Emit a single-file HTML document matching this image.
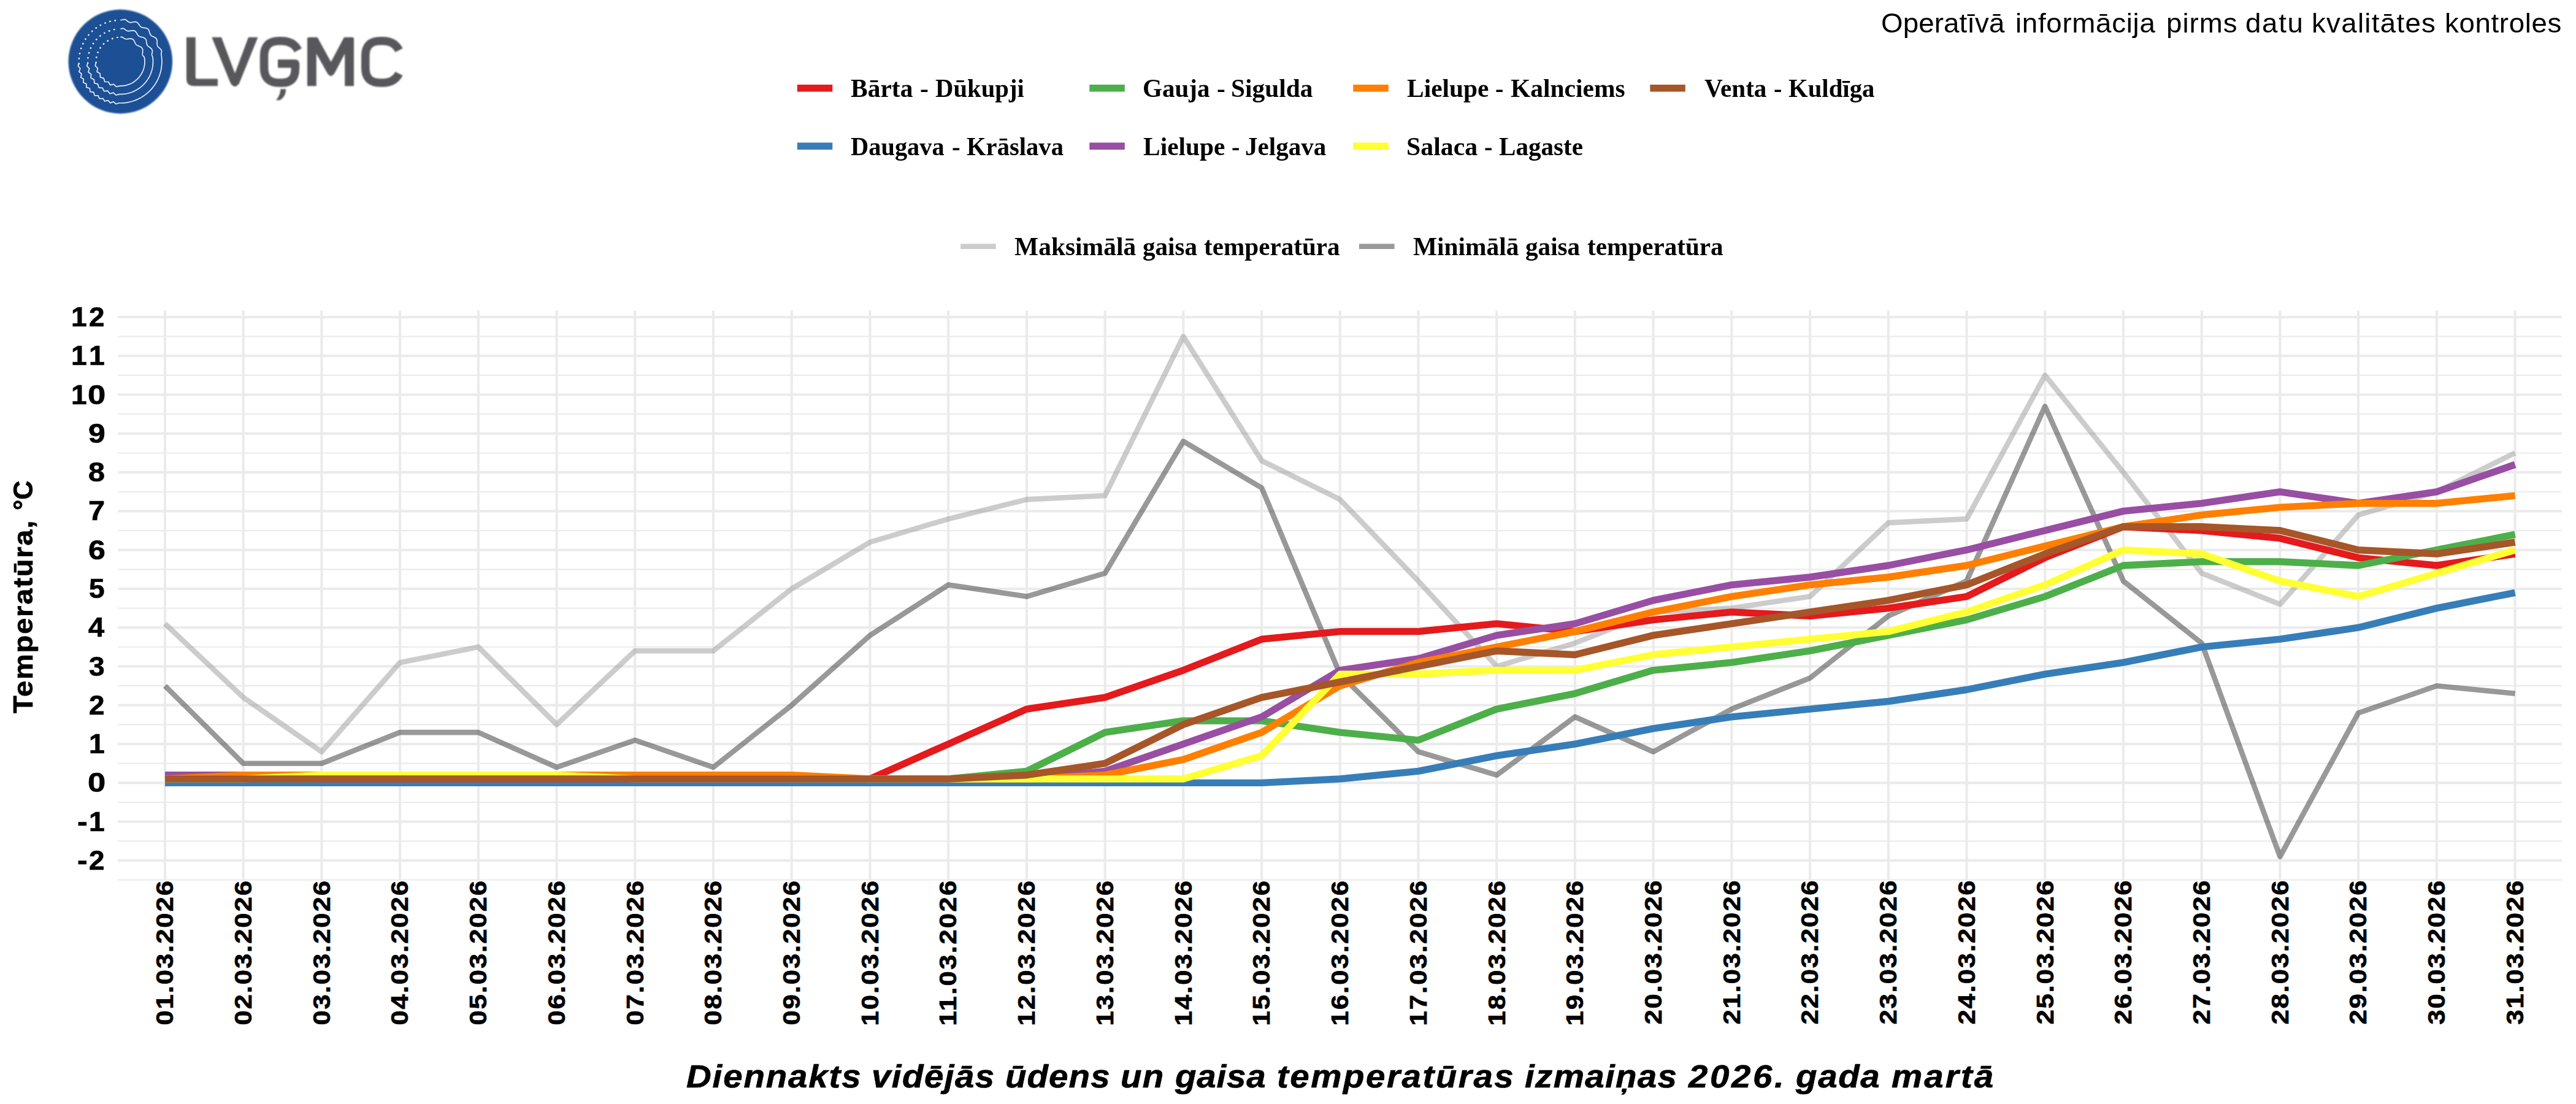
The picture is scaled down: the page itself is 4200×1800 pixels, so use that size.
<!DOCTYPE html>
<html lang="lv"><head><meta charset="utf-8"><title>LVĢMC — ūdens un gaisa temperatūra, 2026. gada marts</title>
<style>
html,body{margin:0;padding:0;background:#fff}
body{width:4200px;height:1800px;position:relative;overflow:hidden;font-family:"Liberation Sans",sans-serif;color:#000}
svg{position:absolute;left:0;top:0;display:block}
.t{position:absolute;white-space:nowrap;line-height:1;font-family:"Liberation Sans",sans-serif}
.l{width:0;height:0}.w{position:absolute;display:block;transform-origin:0 0;white-space:nowrap;line-height:1}
.b{font-weight:bold;-webkit-text-stroke:0.7px #000}.s{-webkit-text-stroke:0}.i{font-style:italic}.s{font-family:"Liberation Serif",serif}

</style></head><body>
<svg width="4200" height="1800" viewBox="0 0 4200 1800">
<path d="M192.2 1434.56H4176.9M192.2 1371.28H4176.9M192.2 1308.00H4176.9M192.2 1244.72H4176.9M192.2 1181.44H4176.9M192.2 1118.16H4176.9M192.2 1054.88H4176.9M192.2 991.60H4176.9M192.2 928.32H4176.9M192.2 865.04H4176.9M192.2 801.76H4176.9M192.2 738.48H4176.9M192.2 675.20H4176.9M192.2 611.92H4176.9M192.2 548.64H4176.9" stroke="#ebebeb" stroke-width="2.2" fill="none"/>
<path d="M192.2 1402.92H4176.9M192.2 1339.64H4176.9M192.2 1276.36H4176.9M192.2 1213.08H4176.9M192.2 1149.80H4176.9M192.2 1086.52H4176.9M192.2 1023.24H4176.9M192.2 959.96H4176.9M192.2 896.68H4176.9M192.2 833.40H4176.9M192.2 770.12H4176.9M192.2 706.84H4176.9M192.2 643.56H4176.9M192.2 580.28H4176.9M192.2 517.00H4176.9M268.97 506.2V1436.0M396.69 506.2V1436.0M524.41 506.2V1436.0M652.13 506.2V1436.0M779.85 506.2V1436.0M907.57 506.2V1436.0M1035.29 506.2V1436.0M1163.01 506.2V1436.0M1290.73 506.2V1436.0M1418.45 506.2V1436.0M1546.17 506.2V1436.0M1673.89 506.2V1436.0M1801.61 506.2V1436.0M1929.33 506.2V1436.0M2057.05 506.2V1436.0M2184.77 506.2V1436.0M2312.49 506.2V1436.0M2440.21 506.2V1436.0M2567.93 506.2V1436.0M2695.65 506.2V1436.0M2823.37 506.2V1436.0M2951.09 506.2V1436.0M3078.81 506.2V1436.0M3206.53 506.2V1436.0M3334.25 506.2V1436.0M3461.97 506.2V1436.0M3589.69 506.2V1436.0M3717.41 506.2V1436.0M3845.13 506.2V1436.0M3972.85 506.2V1436.0M4100.57 506.2V1436.0" stroke="#ebebeb" stroke-width="4.1" fill="none"/>
<polyline points="269.0,1016.9 396.7,1137.1 524.4,1225.7 652.1,1080.2 779.9,1054.9 907.6,1181.4 1035.3,1061.2 1163.0,1061.2 1290.7,960.0 1418.5,884.0 1546.2,846.1 1673.9,814.4 1801.6,808.1 1929.3,548.6 2057.1,751.1 2184.8,814.4 2312.5,947.3 2440.2,1086.5 2567.9,1048.6 2695.6,997.9 2823.4,991.6 2951.1,972.6 3078.8,852.4 3206.5,846.1 3334.2,611.9 3462.0,770.1 3589.7,934.6 3717.4,985.3 3845.1,839.7 3972.9,801.8 4100.6,738.5" fill="none" stroke="#999999" stroke-opacity="0.5" stroke-width="8.6" stroke-linejoin="round"/>
<polyline points="269.0,1118.2 396.7,1244.7 524.4,1244.7 652.1,1194.1 779.9,1194.1 907.6,1251.0 1035.3,1206.8 1163.0,1251.0 1290.7,1149.8 1418.5,1035.9 1546.2,953.6 1673.9,972.6 1801.6,934.6 1929.3,719.5 2057.1,795.4 2184.8,1099.2 2312.5,1225.7 2440.2,1263.7 2567.9,1168.8 2695.6,1225.7 2823.4,1156.1 2951.1,1105.5 3078.8,1004.3 3206.5,947.3 3334.2,662.5 3462.0,947.3 3589.7,1048.6 3717.4,1396.6 3845.1,1162.5 3972.9,1118.2 4100.6,1130.8" fill="none" stroke="#333333" stroke-opacity="0.5" stroke-width="8.6" stroke-linejoin="round"/>
<polyline points="269.0,1270.0 396.7,1270.0 524.4,1270.0 652.1,1270.0 779.9,1270.0 907.6,1270.0 1035.3,1270.0 1163.0,1270.0 1290.7,1270.0 1418.5,1270.0 1546.2,1213.1 1673.9,1156.1 1801.6,1137.1 1929.3,1092.8 2057.1,1042.2 2184.8,1029.6 2312.5,1029.6 2440.2,1016.9 2567.9,1029.6 2695.6,1010.6 2823.4,997.9 2951.1,1004.3 3078.8,991.6 3206.5,972.6 3334.2,909.3 3462.0,858.7 3589.7,865.0 3717.4,877.7 3845.1,909.3 3972.9,922.0 4100.6,903.0" fill="none" stroke="#e41a1c" stroke-width="11.4" stroke-linejoin="round"/>
<polyline points="269.0,1276.4 396.7,1276.4 524.4,1276.4 652.1,1276.4 779.9,1276.4 907.6,1276.4 1035.3,1276.4 1163.0,1276.4 1290.7,1276.4 1418.5,1276.4 1546.2,1276.4 1673.9,1276.4 1801.6,1276.4 1929.3,1276.4 2057.1,1276.4 2184.8,1270.0 2312.5,1257.4 2440.2,1232.1 2567.9,1213.1 2695.6,1187.8 2823.4,1168.8 2951.1,1156.1 3078.8,1143.5 3206.5,1124.5 3334.2,1099.2 3462.0,1080.2 3589.7,1054.9 3717.4,1042.2 3845.1,1023.2 3972.9,991.6 4100.6,966.3" fill="none" stroke="#377eb8" stroke-width="11.4" stroke-linejoin="round"/>
<polyline points="269.0,1270.0 396.7,1270.0 524.4,1270.0 652.1,1270.0 779.9,1270.0 907.6,1270.0 1035.3,1270.0 1163.0,1270.0 1290.7,1270.0 1418.5,1270.0 1546.2,1270.0 1673.9,1257.4 1801.6,1194.1 1929.3,1175.1 2057.1,1175.1 2184.8,1194.1 2312.5,1206.8 2440.2,1156.1 2567.9,1130.8 2695.6,1092.8 2823.4,1080.2 2951.1,1061.2 3078.8,1035.9 3206.5,1010.6 3334.2,972.6 3462.0,922.0 3589.7,915.7 3717.4,915.7 3845.1,922.0 3972.9,896.7 4100.6,871.4" fill="none" stroke="#4daf4a" stroke-width="11.4" stroke-linejoin="round"/>
<polyline points="269.0,1263.7 396.7,1263.7 524.4,1270.0 652.1,1270.0 779.9,1270.0 907.6,1270.0 1035.3,1270.0 1163.0,1270.0 1290.7,1270.0 1418.5,1270.0 1546.2,1270.0 1673.9,1270.0 1801.6,1257.4 1929.3,1213.1 2057.1,1168.8 2184.8,1092.8 2312.5,1073.9 2440.2,1035.9 2567.9,1016.9 2695.6,978.9 2823.4,953.6 2951.1,941.0 3078.8,922.0 3206.5,896.7 3334.2,865.0 3462.0,833.4 3589.7,820.7 3717.4,801.8 3845.1,820.7 3972.9,801.8 4100.6,757.5" fill="none" stroke="#984ea3" stroke-width="11.4" stroke-linejoin="round"/>
<polyline points="269.0,1270.0 396.7,1263.7 524.4,1263.7 652.1,1263.7 779.9,1263.7 907.6,1263.7 1035.3,1263.7 1163.0,1263.7 1290.7,1263.7 1418.5,1270.0 1546.2,1270.0 1673.9,1270.0 1801.6,1263.7 1929.3,1238.4 2057.1,1194.1 2184.8,1118.2 2312.5,1080.2 2440.2,1054.9 2567.9,1029.6 2695.6,997.9 2823.4,972.6 2951.1,953.6 3078.8,941.0 3206.5,922.0 3334.2,890.4 3462.0,858.7 3589.7,839.7 3717.4,827.1 3845.1,820.7 3972.9,820.7 4100.6,808.1" fill="none" stroke="#ff7f00" stroke-width="11.4" stroke-linejoin="round"/>
<polyline points="269.0,1270.0 396.7,1270.0 524.4,1263.7 652.1,1263.7 779.9,1263.7 907.6,1263.7 1035.3,1270.0 1163.0,1270.0 1290.7,1270.0 1418.5,1270.0 1546.2,1270.0 1673.9,1270.0 1801.6,1270.0 1929.3,1270.0 2057.1,1232.1 2184.8,1099.2 2312.5,1099.2 2440.2,1092.8 2567.9,1092.8 2695.6,1067.5 2823.4,1054.9 2951.1,1042.2 3078.8,1029.6 3206.5,997.9 3334.2,953.6 3462.0,896.7 3589.7,903.0 3717.4,947.3 3845.1,972.6 3972.9,934.6 4100.6,896.7" fill="none" stroke="#ffff33" stroke-width="11.4" stroke-linejoin="round"/>
<polyline points="269.0,1270.0 396.7,1270.0 524.4,1270.0 652.1,1270.0 779.9,1270.0 907.6,1270.0 1035.3,1270.0 1163.0,1270.0 1290.7,1270.0 1418.5,1270.0 1546.2,1270.0 1673.9,1263.7 1801.6,1244.7 1929.3,1181.4 2057.1,1137.1 2184.8,1111.8 2312.5,1086.5 2440.2,1061.2 2567.9,1067.5 2695.6,1035.9 2823.4,1016.9 2951.1,997.9 3078.8,978.9 3206.5,953.6 3334.2,903.0 3462.0,858.7 3589.7,858.7 3717.4,865.0 3845.1,896.7 3972.9,903.0 4100.6,884.0" fill="none" stroke="#a65628" stroke-width="11.4" stroke-linejoin="round"/>
<path d="M1299.8 143.7h57.5" stroke="#e41a1c" stroke-width="11.4" fill="none"/>
<path d="M1776.3 143.7h57.5" stroke="#4daf4a" stroke-width="11.4" fill="none"/>
<path d="M2206.3 143.7h57.5" stroke="#ff7f00" stroke-width="11.4" fill="none"/>
<path d="M2690.3 143.7h57.5" stroke="#a65628" stroke-width="11.4" fill="none"/>
<path d="M1299.8 238.3h57.5" stroke="#377eb8" stroke-width="11.4" fill="none"/>
<path d="M1776.3 238.3h57.5" stroke="#984ea3" stroke-width="11.4" fill="none"/>
<path d="M2206.3 238.3h57.5" stroke="#ffff33" stroke-width="11.4" fill="none"/>
<path d="M1566.1 401.7h57.6" stroke="#999999" stroke-opacity="0.5" stroke-width="8.6" fill="none"/>
<path d="M2216.0 401.7h57.6" stroke="#333333" stroke-opacity="0.5" stroke-width="8.6" fill="none"/>
<defs><filter id="lb" x="-5%" y="-5%" width="110%" height="110%"><feGaussianBlur stdDeviation="1.1"/></filter></defs><g filter="url(#lb)">
<circle cx="196.3" cy="100.4" r="84.8" fill="#1c5094"/>
<g fill="#58595b"><path d="M304 60.7H318.8V126Q318.8 128.5 321.3 128.5H355V140.3H316Q304 140.3 304 128.3Z"/><path d="M345.3 60.7H361L383 119.5L405 60.7H420.5L390 136Q383 146 376 136Z"/><path d="M501 140.3V63.5Q501 60.7 503.8 60.7H517.5L539.6 101L561 60.7H574.2Q577 60.7 577 63.5V140.3H562.2V87.5L546 118.5Q539.6 129 533.2 118.5L515.8 87.5V140.3Z"/><path d="M457.3 145.2H466.2Q466.4 157 456.5 163.3H449.8Q456.8 156.5 457.3 145.2Z"/></g>
<g fill="none" stroke="#58595b" stroke-width="13.6" stroke-linejoin="round"><path d="M486 82Q478 66.8 459 66.8H455Q430.6 66.8 430.6 91V111Q430.6 135 455 135H460Q481.4 135 481.4 112V103.8H453"/><path d="M650.5 82Q643 66.8 624 66.8H620Q595.8 66.8 595.8 91V111Q595.8 135 620 135H624Q643 135 650.5 120"/></g>
</g>
<g fill="none" stroke="#e6edf7" stroke-width="1.7"><path d="M128.86 105.12A67.6 67.6 0 0 1 191.58 32.96" stroke-dasharray="2.6 5.8" stroke-width="2.4" stroke-linecap="butt"/><path d="M196.30 32.80L197.11 32.76L197.92 32.64L198.73 32.47L199.55 32.25L200.38 32.03L201.21 31.84L202.05 31.72L202.88 31.69L203.69 31.79L204.49 32.02L205.26 32.50L206.01 33.03L206.74 33.60L207.46 34.18L208.17 34.74L208.88 35.25L209.60 35.71L210.32 36.08L211.06 36.36L211.83 36.55L212.61 36.64L213.43 36.63L214.27 36.55L215.13 36.41L216.02 36.24L216.92 36.04L217.83 35.86L218.74 35.72L219.64 35.63L220.52 35.63L221.37 35.72L222.18 35.92L222.95 36.22L223.67 36.64L224.35 37.16L224.97 37.77L225.56 38.45L226.11 39.19L226.64 39.95L227.15 40.72L227.65 41.47L228.17 42.19L228.71 42.84L229.28 43.42L229.90 43.92L230.57 44.33L231.29 44.66L232.06 44.91L232.88 45.09L233.75 45.23L234.65 45.33L235.56 45.42L236.48 45.53L237.39 45.67L238.28 45.86L239.12 46.12L239.90 46.46L240.62 46.89L241.26 47.41L241.83 48.03L242.31 48.73L242.73 49.49L243.08 50.32L243.38 51.19L243.65 52.08L243.90 52.97L244.15 53.84L244.43 54.68L244.74 55.47L245.10 56.20L245.54 56.87L246.04 57.47L246.62 58.00L247.28 58.48L248.00 58.91L248.78 59.30L249.60 59.67L250.45 60.04L251.29 60.42L252.12 60.83L252.90 61.28L253.63 61.78L254.27 62.34L254.83 62.97L255.29 63.66L255.64 64.41L255.90 65.22L256.06 66.08L256.15 66.98L256.17 67.89L256.16 68.82L256.12 69.74L256.10 70.65L256.10 71.54L256.15 72.39L256.27 73.20L256.47 73.96L256.77 74.69L257.15 75.38L257.63 76.04L258.18 76.67L258.80 77.28L259.47 77.89L260.16 78.49L260.85 79.11L261.51 79.75L262.13 80.42L262.67 81.12L263.11 81.85L263.46 82.61L263.50 83.46L263.45 84.32L263.33 85.19L263.18 86.06L263.04 86.92L262.93 87.77L262.89 88.60L262.93 89.41L263.05 90.21L263.24 90.99L263.49 92.94L263.68 94.90L263.81 96.86L263.88 98.83L263.90 100.79L263.86 102.76L263.76 104.72L263.61 106.68L263.40 108.64L263.13 110.59L262.80 112.53L262.42 114.45L261.99 116.37L261.49 118.28L260.95 120.16L260.34 122.04L259.69 123.89L258.98 125.72L258.21 127.54L257.40 129.32L256.53 131.09L255.61 132.83L254.65 134.54L253.63 136.22L252.56 137.87L251.45 139.50L250.29 141.08L249.08 142.64L247.83 144.15L246.54 145.63L245.20 147.08L243.82 148.48L242.40 149.84L240.95 151.16L239.45 152.44L237.92 153.67L236.35 154.86L234.75 156.00L233.12 157.09L231.45 158.14L229.76 159.14L228.04 160.09L226.29 160.99L224.51 161.83L222.71 162.63L220.89 163.37L219.05 164.06L217.19 164.69L215.31 165.27L213.42 165.80L211.51 166.27L209.58 166.68L207.65 167.04L205.71 167.34L203.76 167.59L201.80 167.78L199.84 167.91L197.87 167.98L195.91 168.00L193.94 167.96L189.14 169.53L184.98 165.83L179.81 167.91L176.18 163.68L170.78 165.04L167.76 160.35L162.22 160.97L159.87 155.91L154.30 155.77L152.66 150.44L147.16 149.54L146.26 144.04L140.93 142.40L140.79 136.83L135.73 134.48L136.35 128.94L131.66 125.92L133.02 120.52L128.79 116.89L130.87 111.72L127.17 107.56L128.74 102.76" stroke-linejoin="round"/><path d="M143.23 104.11A53.2 53.2 0 0 1 192.59 47.33" stroke-dasharray="2.6 5.8" stroke-width="2.4" stroke-linecap="butt"/><path d="M196.30 47.20L196.94 47.03L197.58 46.84L198.22 46.66L198.87 46.51L199.52 46.41L200.17 46.38L200.82 46.42L201.45 46.56L202.08 46.79L202.68 47.12L203.27 47.56L203.85 48.00L204.42 48.44L204.99 48.86L205.55 49.26L206.11 49.62L206.67 49.94L207.25 50.20L207.83 50.40L208.42 50.55L209.03 50.63L209.66 50.66L210.30 50.64L210.96 50.58L211.64 50.48L212.34 50.35L213.04 50.22L213.76 50.08L214.48 49.96L215.20 49.86L215.91 49.79L216.62 49.77L217.31 49.81L217.98 49.91L218.62 50.07L219.24 50.30L219.82 50.60L220.37 50.97L220.89 51.40L221.37 51.89L221.82 52.43L222.25 53.01L222.64 53.62L223.02 54.24L223.39 54.87L223.74 55.50L224.10 56.11L224.47 56.70L224.84 57.25L225.24 57.76L225.67 58.22L226.12 58.64L226.61 59.01L227.14 59.33L227.70 59.60L228.30 59.83L228.93 60.03L229.60 60.20L230.28 60.35L230.98 60.50L231.70 60.65L232.41 60.81L233.11 60.99L233.80 61.20L234.46 61.45L235.09 61.75L235.67 62.09L236.21 62.48L236.69 62.93L237.12 63.43L237.50 63.97L237.81 64.57L238.08 65.20L238.29 65.87L238.46 66.56L238.60 67.27L238.71 68.00L238.80 68.72L238.89 69.44L238.99 70.14L239.10 70.82L239.23 71.48L239.40 72.11L239.61 72.71L239.86 73.27L240.17 73.80L240.52 74.30L240.93 74.77L241.39 75.22L241.90 75.64L242.44 76.06L243.01 76.46L243.60 76.87L244.20 77.28L244.80 77.70L245.38 78.14L245.94 78.59L246.46 79.08L246.93 79.58L247.34 80.12L247.69 80.69L247.97 81.28L248.19 81.91L248.33 82.55L248.40 83.22L248.40 83.91L248.35 84.60L248.24 85.31L248.10 86.02L247.93 86.73L247.75 87.43L247.64 88.11L247.60 88.76L247.64 89.39L247.75 90.01L247.93 90.61L248.16 91.21L248.42 91.80L248.70 92.40L248.98 93.00L249.18 94.53L249.32 96.07L249.43 97.62L249.49 99.16L249.50 100.71L249.47 102.26L249.39 103.80L249.27 105.34L249.10 106.88L248.89 108.42L248.64 109.94L248.34 111.46L247.99 112.97L247.61 114.47L247.18 115.95L246.70 117.43L246.18 118.89L245.63 120.33L245.03 121.76L244.38 123.16L243.70 124.55L242.98 125.92L242.22 127.27L241.42 128.59L240.58 129.89L239.70 131.17L238.79 132.42L237.84 133.64L236.85 134.83L235.84 136.00L234.78 137.13L233.70 138.24L232.58 139.31L231.44 140.35L230.26 141.35L229.05 142.32L227.82 143.26L226.56 144.16L225.27 145.02L223.96 145.84L222.63 146.63L221.28 147.37L219.90 148.08L218.50 148.75L217.09 149.37L215.65 149.95L214.20 150.50L212.74 151.00L211.26 151.45L209.77 151.87L208.27 152.24L206.75 152.56L205.23 152.84L203.70 153.08L202.17 153.28L200.63 153.42L199.08 153.53L197.54 153.59L195.99 153.60L194.44 153.57L189.23 155.04L184.82 151.12L179.16 152.77L175.57 148.09L169.69 148.65L167.03 143.38L161.16 142.84L159.53 137.17L153.86 135.54L153.32 129.67L148.05 127.01L148.61 121.13L143.93 117.54L145.58 111.88L141.66 107.47L143.13 102.26" stroke-linejoin="round"/><path d="M156.70 103.17A39.7 39.7 0 0 1 193.53 60.80" stroke-dasharray="2.6 5.8" stroke-width="2.4" stroke-linecap="butt"/><path d="M196.30 60.70L196.78 60.54L197.25 60.42L197.73 60.35L198.21 60.33L198.69 60.37L199.16 60.47L199.63 60.64L200.08 60.87L200.53 61.15L200.96 61.49L201.39 61.80L201.82 62.10L202.24 62.39L202.66 62.65L203.08 62.89L203.50 63.10L203.93 63.29L204.36 63.44L204.79 63.57L205.23 63.66L205.68 63.72L206.14 63.75L206.61 63.75L207.09 63.72L207.59 63.68L208.09 63.61L208.60 63.54L209.12 63.45L209.65 63.36L210.18 63.27L210.72 63.19L211.26 63.12L211.80 63.07L212.34 63.03L212.88 63.02L213.40 63.04L213.92 63.10L214.42 63.19L214.91 63.31L215.39 63.47L215.84 63.68L216.27 63.92L216.68 64.20L217.07 64.51L217.44 64.87L217.78 65.25L218.11 65.66L218.41 66.10L218.69 66.55L218.95 67.03L219.20 67.51L219.44 68.00L219.66 68.50L219.88 68.99L220.10 69.48L220.31 69.96L220.53 70.42L220.76 70.87L221.00 71.29L221.25 71.70L221.52 72.08L221.80 72.44L222.11 72.77L222.43 73.08L222.79 73.37L223.16 73.63L223.56 73.88L223.97 74.11L224.41 74.32L224.87 74.52L225.35 74.72L225.84 74.90L226.34 75.09L226.84 75.28L227.35 75.48L227.85 75.69L228.35 75.91L228.84 76.15L229.31 76.40L229.76 76.68L230.19 76.98L230.59 77.30L230.96 77.64L231.30 78.02L231.60 78.41L231.87 78.83L232.10 79.27L232.29 79.73L232.44 80.22L232.56 80.72L232.64 81.23L232.69 81.75L232.71 82.29L232.71 82.83L232.68 83.37L232.64 83.92L232.59 84.46L232.53 85.00L232.47 85.53L232.41 86.05L232.37 86.57L232.33 87.07L232.31 87.56L232.32 88.05L232.34 88.51L232.40 88.97L232.48 89.42L232.60 89.85L232.75 90.28L232.92 90.70L233.30 91.07L233.68 91.45L234.05 91.84L234.40 92.23L234.72 92.64L235.00 93.06L235.24 93.50L235.42 93.95L235.55 94.41L235.61 94.87L235.76 96.02L235.87 97.17L235.95 98.32L235.99 99.48L236.00 100.63L235.98 101.79L235.92 102.94L235.83 104.09L235.70 105.24L235.55 106.38L235.36 107.52L235.13 108.65L234.88 109.78L234.59 110.90L234.27 112.01L233.91 113.11L233.53 114.20L233.11 115.27L232.66 116.34L232.18 117.39L231.67 118.42L231.13 119.44L230.57 120.45L229.97 121.44L229.34 122.41L228.69 123.36L228.01 124.29L227.30 125.20L226.56 126.10L225.80 126.96L225.02 127.81L224.21 128.63L223.38 129.43L222.52 130.21L221.64 130.96L220.74 131.68L219.82 132.38L218.88 133.05L217.92 133.70L216.94 134.31L215.95 134.90L214.94 135.45L213.91 135.98L212.87 136.48L211.81 136.94L210.74 137.38L209.66 137.78L208.57 138.16L207.46 138.50L206.35 138.81L205.23 139.08L204.10 139.33L202.97 139.54L201.83 139.71L200.68 139.86L199.53 139.97L198.38 140.05L197.22 140.09L196.07 140.10L194.91 140.08L189.67 141.47L185.47 137.35L179.71 138.55L176.66 133.52L170.78 133.26L169.08 127.62L163.44 125.92L163.18 120.04L158.15 116.99L159.35 111.23L155.23 107.03L156.62 101.79" stroke-linejoin="round"/></g>
</svg>
<div class="t l " style="left:3066.57px;top:54.30px;font-size:43.5px;"><span class="w" style="left:0.23px;top:-36.83px;letter-spacing:0.105px;transform:scaleX(1.0500)">Operatīvā</span> <span class="w" style="left:219.52px;top:-36.83px;letter-spacing:0.663px;transform:scaleX(1.0500)">informācija</span> <span class="w" style="left:465.20px;top:-36.83px;letter-spacing:0.929px;transform:scaleX(1.0500)">pirms</span> <span class="w" style="left:594.57px;top:-36.83px;letter-spacing:1.593px;transform:scaleX(1.0500)">datu</span> <span class="w" style="left:702.85px;top:-36.83px;letter-spacing:1.217px;transform:scaleX(1.0500)">kvalitātes</span> <span class="w" style="left:919.18px;top:-36.83px;letter-spacing:0.603px;transform:scaleX(1.0500)">kontroles</span></div>
<div class="t l b s" style="left:1387.80px;top:159.00px;font-size:41.67px"><span class="w" style="left:-0.66px;top:-34.89px;transform:scaleX(0.9964)">Bārta</span> <span class="w" style="left:111.83px;top:-34.89px;transform:scaleX(1.0031)">-</span> <span class="w" style="left:137.15px;top:-34.89px;transform:scaleX(0.9769)">Dūkupji</span></div>
<div class="t l b s" style="left:1864.80px;top:159.00px;font-size:41.67px"><span class="w" style="left:-1.97px;top:-34.89px;transform:scaleX(0.9858)">Gauja</span> <span class="w" style="left:118.74px;top:-34.89px;transform:scaleX(0.9937)">-</span> <span class="w" style="left:141.88px;top:-34.89px;transform:scaleX(0.9937)">Sigulda</span></div>
<div class="t l b s" style="left:2294.80px;top:159.00px;font-size:41.67px"><span class="w" style="left:-0.66px;top:-34.89px;transform:scaleX(0.9945)">Lielupe</span> <span class="w" style="left:143.39px;top:-34.89px;transform:scaleX(0.9656)">-</span> <span class="w" style="left:167.84px;top:-34.89px;transform:scaleX(0.9953)">Kalnciems</span></div>
<div class="t l b s" style="left:2779.10px;top:159.00px;font-size:41.67px"><span class="w" style="left:-0.33px;top:-34.89px;transform:scaleX(0.9885)">Venta</span> <span class="w" style="left:112.89px;top:-34.89px;transform:scaleX(0.9656)">-</span> <span class="w" style="left:137.35px;top:-34.89px;transform:scaleX(0.9780)">Kuldīga</span></div>
<div class="t l b s" style="left:1387.80px;top:254.10px;font-size:41.67px"><span class="w" style="left:-0.65px;top:-34.89px;transform:scaleX(0.9705)">Daugava</span> <span class="w" style="left:163.86px;top:-34.89px;transform:scaleX(0.9844)">-</span> <span class="w" style="left:188.55px;top:-34.89px;transform:scaleX(0.9753)">Krāslava</span></div>
<div class="t l b s" style="left:1864.80px;top:254.10px;font-size:41.67px"><span class="w" style="left:-0.66px;top:-34.89px;transform:scaleX(0.9945)">Lielupe</span> <span class="w" style="left:143.39px;top:-34.89px;transform:scaleX(0.9656)">-</span> <span class="w" style="left:164.93px;top:-34.89px;transform:scaleX(0.9851)">Jelgava</span></div>
<div class="t l b s" style="left:2295.40px;top:254.10px;font-size:41.67px"><span class="w" style="left:-2.34px;top:-34.89px;transform:scaleX(1.0030)">Salaca</span> <span class="w" style="left:124.89px;top:-34.89px;transform:scaleX(0.9656)">-</span> <span class="w" style="left:148.84px;top:-34.89px;transform:scaleX(0.9869)">Lagaste</span></div>
<div class="t l b s" style="left:1654.70px;top:416.90px;font-size:41.67px"><span class="w" style="left:-0.66px;top:-34.89px;transform:scaleX(0.9956)">Maksimālā</span> <span class="w" style="left:208.01px;top:-34.89px;transform:scaleX(0.9868)">gaisa</span> <span class="w" style="left:308.44px;top:-34.89px;transform:scaleX(0.9879)">temperatūra</span></div>
<div class="t l b s" style="left:2304.70px;top:416.90px;font-size:41.67px"><span class="w" style="left:-0.66px;top:-34.89px;transform:scaleX(0.9928)">Minimālā</span> <span class="w" style="left:182.71px;top:-34.89px;transform:scaleX(0.9880)">gaisa</span> <span class="w" style="left:283.24px;top:-34.89px;transform:scaleX(0.9879)">temperatūra</span></div>
<div class="t l b" style="left:125.91px;top:1418.82px;font-size:43.5px"><span class="w" style="left:0.29px;top:-36.83px;transform:scaleX(1.1569)">-</span><span class="w" style="left:19.00px;top:-36.83px;transform:scaleX(1.0541)">2</span></div>
<div class="t l b" style="left:125.91px;top:1355.54px;font-size:43.5px"><span class="w" style="left:0.29px;top:-36.83px;transform:scaleX(1.1569)">-</span><span class="w" style="left:19.09px;top:-36.83px;transform:scaleX(1.0584)">1</span></div>
<div class="t l b" style="left:143.21px;top:1292.26px;font-size:43.5px"><span class="w" style="left:-0.09px;top:-36.83px;transform:scaleX(1.2087)">0</span></div>
<div class="t l b" style="left:143.21px;top:1228.98px;font-size:43.5px"><span class="w" style="left:1.80px;top:-36.83px;transform:scaleX(1.0584)">1</span></div>
<div class="t l b" style="left:143.21px;top:1165.70px;font-size:43.5px"><span class="w" style="left:1.71px;top:-36.83px;transform:scaleX(1.0541)">2</span></div>
<div class="t l b" style="left:143.21px;top:1102.42px;font-size:43.5px"><span class="w" style="left:1.73px;top:-36.83px;transform:scaleX(1.0586)">3</span></div>
<div class="t l b" style="left:143.21px;top:1039.14px;font-size:43.5px"><span class="w" style="left:1.16px;top:-36.83px;transform:scaleX(1.0819)">4</span></div>
<div class="t l b" style="left:143.21px;top:975.86px;font-size:43.5px"><span class="w" style="left:1.80px;top:-36.83px;transform:scaleX(1.0566)">5</span></div>
<div class="t l b" style="left:143.21px;top:912.58px;font-size:43.5px"><span class="w" style="left:0.75px;top:-36.83px;transform:scaleX(1.1495)">6</span></div>
<div class="t l b" style="left:143.21px;top:849.30px;font-size:43.5px"><span class="w" style="left:0.69px;top:-36.83px;transform:scaleX(1.1214)">7</span></div>
<div class="t l b" style="left:143.21px;top:786.02px;font-size:43.5px"><span class="w" style="left:1.01px;top:-36.83px;transform:scaleX(1.1114)">8</span></div>
<div class="t l b" style="left:143.21px;top:722.74px;font-size:43.5px"><span class="w" style="left:0.43px;top:-36.83px;transform:scaleX(1.1472)">9</span></div>
<div class="t l b" style="left:114.21px;top:659.46px;font-size:43.5px"><span class="w" style="left:1.80px;top:-36.83px;transform:scaleX(1.0584)">1</span><span class="w" style="left:28.91px;top:-36.83px;transform:scaleX(1.2087)">0</span></div>
<div class="t l b" style="left:114.21px;top:596.18px;font-size:43.5px"><span class="w" style="left:1.80px;top:-36.83px;transform:scaleX(1.0584)">1</span><span class="w" style="left:30.79px;top:-36.83px;transform:scaleX(1.0584)">1</span></div>
<div class="t l b" style="left:114.21px;top:532.90px;font-size:43.5px"><span class="w" style="left:1.80px;top:-36.83px;transform:scaleX(1.0584)">1</span><span class="w" style="left:30.70px;top:-36.83px;transform:scaleX(1.0541)">2</span></div>
<div class="t b" style="left:283.27px;top:1637.82px;font-size:39.7px;letter-spacing:1.724px;transform-origin:0 33.61px;transform:rotate(-90deg) scaleX(1.1)">01.03.2026</div>
<div class="t b" style="left:410.99px;top:1637.82px;font-size:39.7px;letter-spacing:1.724px;transform-origin:0 33.61px;transform:rotate(-90deg) scaleX(1.1)">02.03.2026</div>
<div class="t b" style="left:538.71px;top:1637.82px;font-size:39.7px;letter-spacing:1.724px;transform-origin:0 33.61px;transform:rotate(-90deg) scaleX(1.1)">03.03.2026</div>
<div class="t b" style="left:666.43px;top:1637.82px;font-size:39.7px;letter-spacing:1.724px;transform-origin:0 33.61px;transform:rotate(-90deg) scaleX(1.1)">04.03.2026</div>
<div class="t b" style="left:794.15px;top:1637.82px;font-size:39.7px;letter-spacing:1.724px;transform-origin:0 33.61px;transform:rotate(-90deg) scaleX(1.1)">05.03.2026</div>
<div class="t b" style="left:921.87px;top:1637.82px;font-size:39.7px;letter-spacing:1.724px;transform-origin:0 33.61px;transform:rotate(-90deg) scaleX(1.1)">06.03.2026</div>
<div class="t b" style="left:1049.59px;top:1637.82px;font-size:39.7px;letter-spacing:1.724px;transform-origin:0 33.61px;transform:rotate(-90deg) scaleX(1.1)">07.03.2026</div>
<div class="t b" style="left:1177.31px;top:1637.82px;font-size:39.7px;letter-spacing:1.724px;transform-origin:0 33.61px;transform:rotate(-90deg) scaleX(1.1)">08.03.2026</div>
<div class="t b" style="left:1305.03px;top:1637.82px;font-size:39.7px;letter-spacing:1.724px;transform-origin:0 33.61px;transform:rotate(-90deg) scaleX(1.1)">09.03.2026</div>
<div class="t b" style="left:1432.75px;top:1638.92px;font-size:39.7px;letter-spacing:1.835px;transform-origin:0 33.61px;transform:rotate(-90deg) scaleX(1.1)">10.03.2026</div>
<div class="t b" style="left:1560.47px;top:1638.92px;font-size:39.7px;letter-spacing:2.094px;transform-origin:0 33.61px;transform:rotate(-90deg) scaleX(1.1)">11.03.2026</div>
<div class="t b" style="left:1688.19px;top:1638.92px;font-size:39.7px;letter-spacing:1.835px;transform-origin:0 33.61px;transform:rotate(-90deg) scaleX(1.1)">12.03.2026</div>
<div class="t b" style="left:1815.91px;top:1638.92px;font-size:39.7px;letter-spacing:1.835px;transform-origin:0 33.61px;transform:rotate(-90deg) scaleX(1.1)">13.03.2026</div>
<div class="t b" style="left:1943.63px;top:1638.92px;font-size:39.7px;letter-spacing:1.835px;transform-origin:0 33.61px;transform:rotate(-90deg) scaleX(1.1)">14.03.2026</div>
<div class="t b" style="left:2071.35px;top:1638.92px;font-size:39.7px;letter-spacing:1.835px;transform-origin:0 33.61px;transform:rotate(-90deg) scaleX(1.1)">15.03.2026</div>
<div class="t b" style="left:2199.07px;top:1638.92px;font-size:39.7px;letter-spacing:1.835px;transform-origin:0 33.61px;transform:rotate(-90deg) scaleX(1.1)">16.03.2026</div>
<div class="t b" style="left:2326.79px;top:1638.92px;font-size:39.7px;letter-spacing:1.835px;transform-origin:0 33.61px;transform:rotate(-90deg) scaleX(1.1)">17.03.2026</div>
<div class="t b" style="left:2454.51px;top:1638.92px;font-size:39.7px;letter-spacing:1.835px;transform-origin:0 33.61px;transform:rotate(-90deg) scaleX(1.1)">18.03.2026</div>
<div class="t b" style="left:2582.23px;top:1638.92px;font-size:39.7px;letter-spacing:1.835px;transform-origin:0 33.61px;transform:rotate(-90deg) scaleX(1.1)">19.03.2026</div>
<div class="t b" style="left:2709.95px;top:1637.45px;font-size:39.7px;letter-spacing:1.687px;transform-origin:0 33.61px;transform:rotate(-90deg) scaleX(1.1)">20.03.2026</div>
<div class="t b" style="left:2837.67px;top:1637.45px;font-size:39.7px;letter-spacing:1.687px;transform-origin:0 33.61px;transform:rotate(-90deg) scaleX(1.1)">21.03.2026</div>
<div class="t b" style="left:2965.39px;top:1637.45px;font-size:39.7px;letter-spacing:1.687px;transform-origin:0 33.61px;transform:rotate(-90deg) scaleX(1.1)">22.03.2026</div>
<div class="t b" style="left:3093.11px;top:1637.45px;font-size:39.7px;letter-spacing:1.687px;transform-origin:0 33.61px;transform:rotate(-90deg) scaleX(1.1)">23.03.2026</div>
<div class="t b" style="left:3220.83px;top:1637.45px;font-size:39.7px;letter-spacing:1.687px;transform-origin:0 33.61px;transform:rotate(-90deg) scaleX(1.1)">24.03.2026</div>
<div class="t b" style="left:3348.55px;top:1637.45px;font-size:39.7px;letter-spacing:1.687px;transform-origin:0 33.61px;transform:rotate(-90deg) scaleX(1.1)">25.03.2026</div>
<div class="t b" style="left:3476.27px;top:1637.45px;font-size:39.7px;letter-spacing:1.687px;transform-origin:0 33.61px;transform:rotate(-90deg) scaleX(1.1)">26.03.2026</div>
<div class="t b" style="left:3603.99px;top:1637.45px;font-size:39.7px;letter-spacing:1.687px;transform-origin:0 33.61px;transform:rotate(-90deg) scaleX(1.1)">27.03.2026</div>
<div class="t b" style="left:3731.71px;top:1637.45px;font-size:39.7px;letter-spacing:1.687px;transform-origin:0 33.61px;transform:rotate(-90deg) scaleX(1.1)">28.03.2026</div>
<div class="t b" style="left:3859.43px;top:1637.45px;font-size:39.7px;letter-spacing:1.687px;transform-origin:0 33.61px;transform:rotate(-90deg) scaleX(1.1)">29.03.2026</div>
<div class="t b" style="left:3987.15px;top:1637.09px;font-size:39.7px;letter-spacing:1.650px;transform-origin:0 33.61px;transform:rotate(-90deg) scaleX(1.1)">30.03.2026</div>
<div class="t b" style="left:4114.87px;top:1637.09px;font-size:39.7px;letter-spacing:1.650px;transform-origin:0 33.61px;transform:rotate(-90deg) scaleX(1.1)">31.03.2026</div>
<div class="t l b" style="left:53.60px;top:1163.35px;font-size:43.5px;transform-origin:0 0;transform:rotate(-90deg);"><span class="w" style="left:-0.03px;top:-36.83px;letter-spacing:1.696px;transform:scaleX(1.0800)">Temperatūra,</span> <span class="w" style="left:331.35px;top:-36.83px;transform:scaleX(0.9927)">°C</span></div>
<div class="t l b i" style="left:1119.03px;top:1773.00px;font-size:52.25px;"><span class="w" style="left:-0.08px;top:-44.24px;letter-spacing:1.725px;transform:scaleX(1.0800)">Diennakts</span> <span class="w" style="left:301.76px;top:-44.24px;letter-spacing:1.370px;transform:scaleX(1.0800)">vidējās</span> <span class="w" style="left:519.81px;top:-44.24px;letter-spacing:1.009px;transform:scaleX(1.0800)">ūdens</span> <span class="w" style="left:707.81px;top:-44.24px;letter-spacing:1.160px;transform:scaleX(1.0800)">un</span> <span class="w" style="left:797.00px;top:-44.24px;letter-spacing:0.796px;transform:scaleX(1.0800)">gaisa</span> <span class="w" style="left:963.48px;top:-44.24px;letter-spacing:2.371px;transform:scaleX(1.0800)">temperatūras</span> <span class="w" style="left:1367.25px;top:-44.24px;letter-spacing:1.265px;transform:scaleX(1.0800)">izmaiņas</span> <span class="w" style="left:1633.72px;top:-44.24px;letter-spacing:3.358px;transform:scaleX(1.0800)">2026.</span> <span class="w" style="left:1809.00px;top:-44.24px;letter-spacing:1.556px;transform:scaleX(1.0800)">gada</span> <span class="w" style="left:1964.92px;top:-44.24px;letter-spacing:2.892px;transform:scaleX(1.0800)">martā</span></div>
</body></html>
